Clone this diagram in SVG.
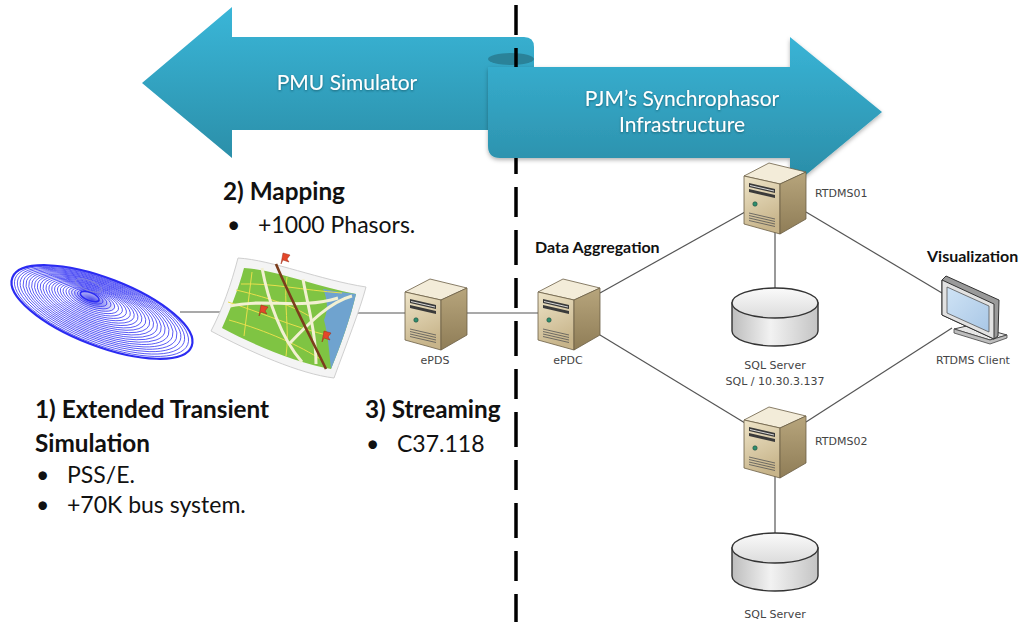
<svg xmlns="http://www.w3.org/2000/svg" xmlns:xlink="http://www.w3.org/1999/xlink" width="1020" height="622" viewBox="0 0 1020 622">
  <style>
    .head { font-family: Lato, "Liberation Sans", sans-serif; font-weight: 700; font-size: 24.3px; fill: #111; }
    .bul { font-family: Lato, "Liberation Sans", sans-serif; font-size: 23px; fill: #111; }
    .tag { font-family: Lato, "Liberation Sans", sans-serif; font-weight: 700; font-size: 16px; fill: #111; }
    .lbl { font-family: "DejaVu Sans", "Liberation Sans", sans-serif; font-size: 11px; fill: #444; }
    .arrtxt { font-family: Lato, "Liberation Sans", sans-serif; font-size: 21px; fill: #fff; text-anchor: middle; }
    .link { stroke: #555; stroke-width: 1.2; fill: none; }
    .edge { stroke: #6b5e45; stroke-width: 0.8; stroke-linejoin: round; }
    .spiral ellipse { fill: none; stroke: #2b2bf2; stroke-width: 0.7; }
  </style>
  <defs>
    <linearGradient id="arrL" x1="0" y1="7" x2="0" y2="158" gradientUnits="userSpaceOnUse">
      <stop offset="0" stop-color="#3ab6d8"/>
      <stop offset="1" stop-color="#2b8fa9"/>
    </linearGradient>
    <linearGradient id="arrR" x1="0" y1="37" x2="0" y2="188" gradientUnits="userSpaceOnUse">
      <stop offset="0" stop-color="#39b4d6"/>
      <stop offset="1" stop-color="#2a8ba5"/>
    </linearGradient>
    <filter id="soft" x="-10%" y="-10%" width="120%" height="130%">
      <feDropShadow dx="0" dy="2" stdDeviation="2" flood-color="#000" flood-opacity="0.3"/>
    </filter>
    <filter id="txtShade" x="-10%" y="-30%" width="120%" height="160%">
      <feDropShadow dx="0" dy="1" stdDeviation="1.2" flood-color="#0b3a48" flood-opacity="0.6"/>
    </filter>
    <linearGradient id="srvFront" x1="0" y1="0" x2="0.3" y2="1">
      <stop offset="0" stop-color="#eee4c8"/>
      <stop offset="1" stop-color="#c7b48a"/>
    </linearGradient>
    <linearGradient id="srvSide" x1="0" y1="0" x2="0" y2="1">
      <stop offset="0" stop-color="#b7a57c"/>
      <stop offset="1" stop-color="#8f7d57"/>
    </linearGradient>
    <linearGradient id="cylSide" x1="0" y1="0" x2="1" y2="0">
      <stop offset="0" stop-color="#bdbdbd"/>
      <stop offset="0.45" stop-color="#f2f2f2"/>
      <stop offset="1" stop-color="#c4c4c4"/>
    </linearGradient>
    <linearGradient id="cylTop" x1="0" y1="0" x2="0" y2="1">
      <stop offset="0" stop-color="#fafafa"/>
      <stop offset="1" stop-color="#dcdcdc"/>
    </linearGradient>
    <linearGradient id="screen" x1="0" y1="0" x2="1" y2="1">
      <stop offset="0" stop-color="#cfe3f5"/>
      <stop offset="1" stop-color="#a9c7e6"/>
    </linearGradient>
    <radialGradient id="eye" cx="0.5" cy="0.5" r="0.5">
      <stop offset="0" stop-color="#1e1ee8" stop-opacity="0.8"/>
      <stop offset="1" stop-color="#1e1ee8" stop-opacity="0"/>
    </radialGradient>

    <!-- tower server icon, 62 x 72 -->
    <g id="server">
      <path class="edge" d="M0,14 L25,1 L62,10 L36,22 Z" fill="#f3ecd9"/>
      <path class="edge" d="M0,14 L36,22 L36,72 L0,62 Z" fill="url(#srvFront)"/>
      <path class="edge" d="M36,22 L62,10 L62,57 L36,72 Z" fill="url(#srvSide)"/>
      <path d="M5,21 L31,27 L31,31 L5,25 Z" fill="#3a3a3a"/>
      <path d="M5,27 L31,33 L31,36 L5,30 Z" fill="#3a3a3a"/>
      <path d="M6,23.5 L30,29" stroke="#fff" stroke-width="0.8"/>
      <circle cx="11" cy="42" r="2.2" fill="#2f8f6f" stroke="#1c4a3a" stroke-width="0.6"/>
      <g stroke="#555" stroke-width="0.8">
        <path d="M5,51 L31,57"/>
        <path d="M5,53.5 L31,59.5"/>
        <path d="M5,56 L31,62"/>
        <path d="M5,58.5 L31,64.5"/>
      </g>
    </g>

    <!-- database cylinder, 86 wide, 60 tall -->
    <g id="db">
      <path d="M0,15 L0,43 A43,15 0 0 0 86,43 L86,15 Z" fill="url(#cylSide)" stroke="#333" stroke-width="1.4"/>
      <ellipse cx="43" cy="15" rx="43" ry="15" fill="url(#cylTop)" stroke="#333" stroke-width="1.4"/>
    </g>
  </defs>

  <rect width="1020" height="622" fill="#fff"/>

  <!-- left banner arrow -->
  <g id="arrow-pmu">
    <path d="M142,83 L232,7 L232,37 L524,37 Q534,37 534,47 L534,67 L488,67 L488,130 L232,130 L232,158 Z" fill="url(#arrL)"/>
    <ellipse cx="511" cy="59" rx="23" ry="6" fill="#2a8299"/>
    <text class="arrtxt" x="347" y="90" filter="url(#txtShade)">PMU Simulator</text>
  </g>

  <!-- boundary between simulator and production side -->
  <g id="divider">
    <line x1="516" y1="5" x2="516" y2="622" stroke="#000" stroke-width="3.5" stroke-dasharray="30 13 35 13"/>
  </g>

  <!-- right banner arrow -->
  <g id="arrow-pjm">
    <path d="M488,67 L790,67 L790,37 L882,112 L790,188 L790,158 L500,158 Q488,158 488,146 Z" fill="url(#arrR)" filter="url(#soft)"/>
    <text class="arrtxt" filter="url(#txtShade)"><tspan x="682" y="106">PJM’s Synchrophasor</tspan><tspan x="682" y="132">Infrastructure</tspan></text>
  </g>

  <!-- connectors -->
  <g id="connectors">
    <line class="link" x1="180" y1="312" x2="222" y2="312"/>
    <line class="link" x1="352" y1="313" x2="405" y2="313"/>
    <line class="link" x1="467" y1="313" x2="538" y2="313"/>
    <line class="link" x1="600" y1="293" x2="745" y2="212"/>
    <line class="link" x1="600" y1="335" x2="745" y2="423"/>
    <line class="link" x1="806" y1="212" x2="942" y2="293"/>
    <line class="link" x1="806" y1="422" x2="952" y2="328"/>
    <line class="link" x1="775" y1="228" x2="775" y2="288"/>
    <line class="link" x1="775" y1="476" x2="775" y2="533"/>
  </g>

  <!-- transient simulation plot -->
  <g id="node-simulation">
    <g class="spiral" transform="translate(102,312) rotate(21)">
      <ellipse cx="-14" cy="-8" rx="26" ry="10" style="fill:url(#eye);stroke:none"/>
      <ellipse cx="0" cy="0" rx="96" ry="34" style="stroke-width:2.2"/>
      <ellipse cx="-0.7" cy="-0.4" rx="92.4" ry="32.8"/>
      <ellipse cx="-1.4" cy="-0.8" rx="88.8" ry="31.5"/>
      <ellipse cx="-2.1" cy="-1.3" rx="85.3" ry="30.3"/>
      <ellipse cx="-2.8" cy="-1.7" rx="81.7" ry="29"/>
      <ellipse cx="-3.5" cy="-2.1" rx="78.1" ry="27.8"/>
      <ellipse cx="-4.3" cy="-2.5" rx="74.5" ry="26.5"/>
      <ellipse cx="-5" cy="-2.9" rx="70.9" ry="25.3"/>
      <ellipse cx="-5.7" cy="-3.3" rx="67.3" ry="24"/>
      <ellipse cx="-6.4" cy="-3.8" rx="63.8" ry="22.8"/>
      <ellipse cx="-7.1" cy="-4.2" rx="60.2" ry="21.5"/>
      <ellipse cx="-7.8" cy="-4.6" rx="56.6" ry="20.3"/>
      <ellipse cx="-8.5" cy="-5" rx="53" ry="19"/>
      <ellipse cx="-9.2" cy="-5.4" rx="49.4" ry="17.8"/>
      <ellipse cx="-9.9" cy="-5.8" rx="45.8" ry="16.5"/>
      <ellipse cx="-10.6" cy="-6.3" rx="42.3" ry="15.3"/>
      <ellipse cx="-11.3" cy="-6.7" rx="38.7" ry="14"/>
      <ellipse cx="-12" cy="-7.1" rx="35.1" ry="12.8"/>
      <ellipse cx="-12.8" cy="-7.5" rx="31.5" ry="11.5"/>
      <ellipse cx="-13.5" cy="-7.9" rx="27.9" ry="10.3"/>
      <ellipse cx="-14.2" cy="-8.3" rx="24.3" ry="9"/>
      <ellipse cx="-14.9" cy="-8.8" rx="20.8" ry="7.8"/>
      <ellipse cx="-15.6" cy="-9.2" rx="17.2" ry="6.5"/>
      <ellipse cx="-16.3" cy="-9.6" rx="13.6" ry="5.3"/>
      <ellipse cx="-17" cy="-10" rx="10" ry="4" style="stroke-width:1.6"/>
      <ellipse cx="-22" cy="-20" rx="14" ry="5" style="stroke:#8a8ad8;stroke-width:0.8"/>
    </g>
  </g>

  <!-- mapping sheet -->
  <g id="node-map">
    <path d="M238,258 C272,260 320,280 366,287 C360,310 346,345 334,378 C300,374 250,352 211,331 C222,310 231,285 238,258 Z" fill="#f4f4f4" stroke="#cfcfcf" stroke-width="1"/>
    <path d="M244,268 C276,270 318,287 356,294 C351,316 341,345 331,369 C298,363 255,346 222,328 C230,310 238,290 244,268 Z" fill="#7fc443"/>
    <path d="M323,289 C334,291 346,293 356,294 C351,316 341,345 331,369 C329,350 328,335 324,320 C328,311 328,300 323,289 Z" fill="#6fa3cf"/>
    <g fill="none" stroke="#e9df4c" stroke-width="1">
      <path d="M241,284 C272,283 302,290 342,293"/>
      <path d="M229,320 C268,331 300,346 322,360"/>
      <path d="M252,272 L244,336"/>
      <path d="M287,277 C283,300 290,330 286,356"/>
      <path d="M228,302 C260,312 290,326 330,336"/>
      <path d="M236,290 C262,296 295,306 312,318"/>
    </g>
    <g fill="none" stroke="#f2f0d2" stroke-width="3">
      <path d="M230,306 C265,298 300,310 338,298"/>
      <path d="M262,268 C268,300 281,338 302,362"/>
      <path d="M290,343 C310,322 330,302 352,296"/>
      <path d="M303,279 C307,303 316,332 316,364"/>
    </g>
    <path d="M276,264 C291,300 310,336 326,369" fill="none" stroke="#7b3d1c" stroke-width="2.6"/>
    <g fill="#e4472a" stroke="#9b2a15" stroke-width="0.5">
      <path d="M281,264 L283,253 L290,255 L287,259 L289,262 L283,260 Z"/>
      <path d="M259,316 L261,305 L268,307 L265,311 L267,314 L261,312 Z"/>
      <path d="M322,342 L324,331 L331,333 L328,337 L330,340 L324,338 Z"/>
    </g>
  </g>

  <!-- servers -->
  <g id="node-epds">
    <use xlink:href="#server" x="405" y="278"/>
    <text class="lbl" x="435" y="364" text-anchor="middle">ePDS</text>
  </g>
  <g id="node-epdc">
    <use xlink:href="#server" x="538" y="278"/>
    <text class="lbl" x="568" y="364" text-anchor="middle">ePDC</text>
    <text class="tag" x="535" y="253">Data Aggregation</text>
  </g>
  <g id="node-rtdms01">
    <use xlink:href="#server" x="744" y="162"/>
    <text class="lbl" x="815" y="197">RTDMS01</text>
  </g>
  <g id="node-rtdms02">
    <use xlink:href="#server" x="744" y="406"/>
    <text class="lbl" x="815" y="445">RTDMS02</text>
  </g>

  <!-- databases -->
  <g id="node-sql1">
    <use xlink:href="#db" x="732" y="288"/>
    <text class="lbl" x="775" y="369" text-anchor="middle">SQL Server</text>
    <text class="lbl" x="775" y="385" text-anchor="middle">SQL / 10.30.3.137</text>
  </g>
  <g id="node-sql2">
    <use xlink:href="#db" x="732" y="533"/>
    <text class="lbl" x="775" y="618" text-anchor="middle">SQL Server</text>
  </g>

  <!-- client workstation -->
  <g id="node-client">
    <path d="M954,329 L990,340 L1007,335 L971,325 Z" fill="#e6e6e6" stroke="#444" stroke-width="1"/>
    <path d="M954,329 L990,340 L1007,335 L1007,338 L990,344 L954,333 Z" fill="#bdbdbd" stroke="#444" stroke-width="0.8"/>
    <path d="M972,318 L984,322 L984,332 L972,328 Z" fill="#cfcfcf" stroke="#444" stroke-width="0.8"/>
    <path d="M946,276 L999,300 L998,336 L994,339 L942,315 L942,280 Z" fill="#9a9a9a" stroke="#333" stroke-width="1"/>
    <path d="M942,280 L994,304 L994,339 L942,315 Z" fill="#e2e2e2" stroke="#333" stroke-width="1"/>
    <path d="M947,287 L989,306 L989,332 L947,313 Z" fill="url(#screen)" stroke="#555" stroke-width="0.8"/>
    <text class="lbl" x="973" y="364" text-anchor="middle">RTDMS Client</text>
    <text class="tag" x="927" y="262">Visualization</text>
  </g>

  <!-- step descriptions -->
  <g id="step-mapping">
    <text class="head" x="223" y="200">2) Mapping</text>
    <text class="bul" x="227" y="233">•</text>
    <text class="bul" x="258" y="233">+1000 Phasors.</text>
  </g>
  <g id="step-simulation">
    <text class="head" x="35" y="418">1) Extended Transient</text>
    <text class="head" x="35" y="452">Simulation</text>
    <text class="bul" x="36" y="483">•</text>
    <text class="bul" x="67" y="483">PSS/E.</text>
    <text class="bul" x="36" y="513">•</text>
    <text class="bul" x="67" y="513">+70K bus system.</text>
  </g>
  <g id="step-streaming">
    <text class="head" x="365" y="418">3) Streaming</text>
    <text class="bul" x="366" y="452">•</text>
    <text class="bul" x="397" y="452">C37.118</text>
  </g>
</svg>
